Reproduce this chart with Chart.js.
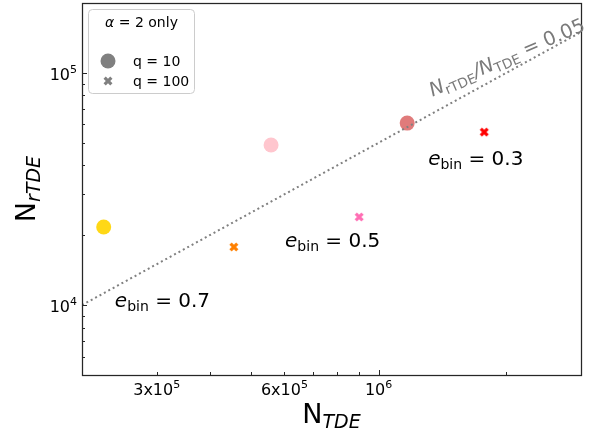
<!DOCTYPE html>
<html>
<head>
<meta charset="utf-8">
<script src="https://cdn.jsdelivr.net/npm/chart.js@4/dist/chart.umd.min.js"></script>
<style>
html,body{margin:0;padding:0;background:#fff;}
#c{display:block;}
</style>
</head>
<body>
<canvas id="c" width="590" height="434"></canvas>
<script>
// ---- data ----
const eccentricities = ['0.7', '0.5', '0.3'];
const nTDE_q10   = [2.25e5, 5.58e5, 1.168e6];
const nrTDE_q10  = [21700, 48900, 60800];
const nTDE_q100  = [4.56e5, 9.0e5, 1.774e6];
const nrTDE_q100 = [17800, 23970, 55600];
const refLineX = [2e5, 3e6];
const refLineY = [1e4, 1.5e5];
const xRange = [2e5, 3e6];
const yRange = [5e3, 2e5];
const xTickValues = [3e5, 6e5, 1e6];
const xTickLabels = ['3x10^5', '6x10^5', '10^6'];
const yTickValues = [1e4, 1e5];
const yTickLabels = ['10^4', '10^5'];
const xMajor = [1e6];
const xMinor = [3e5, 4e5, 5e5, 6e5, 7e5, 8e5, 9e5, 2e6];
const yMajor = [1e4, 1e5];
const yMinor = [6e3, 7e3, 8e3, 9e3, 2e4, 3e4, 4e4, 5e4, 6e4, 7e4, 8e4, 9e4];
// annotation anchors (data coords)
const eLabelX = [2.39e5, 6.02e5, 1.309e6];
const eLabelY = [9.8e3, 1.78e4, 4.0e4];
const refLabelPos = [1.34e6, 7.9e4];

// ---- styles ----
const q10Colors  = ['#FFD816', '#FFC6CE', '#E07B7B'];
const q100Colors = ['#FF8000', '#FF6EB4', '#FF0000'];
const FONT = '"DejaVu Sans", sans-serif';

function makeX(color, s) {
  const n = Math.ceil(s) + 2;
  const c = document.createElement('canvas');
  c.width = n; c.height = n;
  const g = c.getContext('2d');
  g.translate(n / 2, n / 2);
  g.rotate(Math.PI / 4);
  const k = s / 6;
  const pts = [[-1,-3],[1,-3],[1,-1],[3,-1],[3,1],[1,1],[1,3],[-1,3],[-1,1],[-3,1],[-3,-1],[-1,-1]];
  g.beginPath();
  pts.forEach((p, i) => { if (i) g.lineTo(p[0]*k, p[1]*k); else g.moveTo(p[0]*k, p[1]*k); });
  g.closePath();
  g.fillStyle = color;
  g.fill();
  return c;
}

function drawRich(ctx, parts, x, y, align) {
  let w = 0;
  const ws = parts.map(p => {
    ctx.font = `${p.style || 'normal'} ${p.size}px ${FONT}`;
    const m = ctx.measureText(p.t).width;
    w += m; return m;
  });
  let cx = align === 'center' ? x - w / 2 : align === 'right' ? x - w : x;
  ctx.textAlign = 'left';
  ctx.textBaseline = 'alphabetic';
  parts.forEach((p, i) => {
    ctx.font = `${p.style || 'normal'} ${p.size}px ${FONT}`;
    ctx.fillText(p.t, cx, y + (p.dy || 0));
    cx += ws[i];
  });
  return w;
}

function supParts(label, size) {
  const [base, exp] = label.split('^');
  return [{t: base, size: size}, {t: exp, size: Math.round(size * 0.7), dy: -7}];
}

const overlay = {
  id: 'overlay',
  afterDraw(chart) {
    const ctx = chart.ctx;
    const xs = chart.scales.x, ys = chart.scales.y;
    const a = chart.chartArea;
    ctx.save();
    // frame
    ctx.strokeStyle = '#262626';
    ctx.lineWidth = 1.25;
    ctx.strokeRect(Math.round(a.left) + 0.5, Math.round(a.top) + 0.5,
                   Math.round(a.right - a.left), Math.round(a.bottom - a.top));
    // ticks (inward)
    ctx.lineWidth = 1;
    ctx.beginPath();
    const tx = (v, len) => { const p = Math.round(xs.getPixelForValue(v)) + 0.5; ctx.moveTo(p, a.bottom); ctx.lineTo(p, a.bottom - len); };
    const ty = (v, len) => { const p = Math.round(ys.getPixelForValue(v)) + 0.5; ctx.moveTo(a.left, p); ctx.lineTo(a.left + len, p); };
    xMajor.forEach(v => tx(v, 5)); xMinor.forEach(v => tx(v, 3));
    yMajor.forEach(v => ty(v, 5)); yMinor.forEach(v => ty(v, 3));
    ctx.stroke();
    // tick labels
    ctx.fillStyle = '#000';
    xTickValues.forEach((v, i) => {
      drawRich(ctx, supParts(xTickLabels[i], 16), xs.getPixelForValue(v), a.bottom + 20, 'center');
    });
    yTickValues.forEach((v, i) => {
      drawRich(ctx, supParts(yTickLabels[i], 16), a.left - 5, ys.getPixelForValue(v) + 7, 'right');
    });
    // axis titles
    drawRich(ctx, [{t: 'N', size: 27}, {t: 'TDE', size: 19, style: 'italic', dy: 5}],
             (a.left + a.right) / 2, 423, 'center');
    ctx.save();
    ctx.translate(35, (a.top + a.bottom) / 2);
    ctx.rotate(-Math.PI / 2);
    drawRich(ctx, [{t: 'N', size: 27}, {t: 'rTDE', size: 19, style: 'italic', dy: 5}], 0, 0, 'center');
    ctx.restore();
    // e_bin labels
    eccentricities.forEach((e, i) => {
      drawRich(ctx, [{t: 'e', size: 20, style: 'italic'}, {t: 'bin', size: 14, dy: 4}, {t: ' = ' + e, size: 20}],
               xs.getPixelForValue(eLabelX[i]), ys.getPixelForValue(eLabelY[i]), 'left');
    });
    // reference line label
    ctx.save();
    ctx.fillStyle = '#7a7a7a';
    ctx.translate(xs.getPixelForValue(refLabelPos[0]), ys.getPixelForValue(refLabelPos[1]));
    ctx.rotate(-23.5 * Math.PI / 180);
    drawRich(ctx, [
      {t: 'N', size: 19.5, style: 'italic'}, {t: 'rTDE', size: 13.5, dy: 4},
      {t: '/', size: 19.5, style: 'italic'},
      {t: 'N', size: 19.5, style: 'italic'}, {t: 'TDE', size: 13.5, dy: 4},
      {t: ' = 0.05', size: 19.5}
    ], 0, 0, 'left');
    ctx.restore();
    // legend
    const L = {x: 88.5, y: 9.5, w: 106, h: 84, r: 4};
    ctx.beginPath();
    ctx.moveTo(L.x + L.r, L.y);
    ctx.arcTo(L.x + L.w, L.y, L.x + L.w, L.y + L.h, L.r);
    ctx.arcTo(L.x + L.w, L.y + L.h, L.x, L.y + L.h, L.r);
    ctx.arcTo(L.x, L.y + L.h, L.x, L.y, L.r);
    ctx.arcTo(L.x, L.y, L.x + L.w, L.y, L.r);
    ctx.closePath();
    ctx.fillStyle = 'rgba(255,255,255,0.8)';
    ctx.fill();
    ctx.strokeStyle = '#cccccc';
    ctx.lineWidth = 1;
    ctx.stroke();
    ctx.fillStyle = '#000';
    drawRich(ctx, [{t: 'α', size: 14, style: 'italic'}, {t: ' = 2 only', size: 14}], L.x + L.w / 2, 27, 'center');
    ctx.fillStyle = '#808080';
    ctx.beginPath(); ctx.arc(108, 61, 7.5, 0, Math.PI * 2); ctx.fill();
    const xm = makeX('#808080', 9.5);
    ctx.drawImage(xm, 108 - xm.width / 2, 81 - xm.height / 2);
    ctx.fillStyle = '#000';
    drawRich(ctx, [{t: 'q = 10', size: 14}], 133, 66, 'left');
    drawRich(ctx, [{t: 'q = 100', size: 14}], 133, 86, 'left');
    ctx.restore();
  }
};

const chart = new Chart(document.getElementById('c'), {
  type: 'scatter',
  data: {
    datasets: [
      {
        type: 'line',
        data: refLineX.map((x, i) => ({x: x, y: refLineY[i]})),
        borderColor: '#808080',
        borderWidth: 2,
        borderDash: [2, 3],
        pointRadius: 0,
        fill: false,
        order: 0
      },
      {
        data: nTDE_q10.map((x, i) => ({x: x, y: nrTDE_q10[i]})),
        backgroundColor: q10Colors,
        borderWidth: 0,
        pointRadius: 7.5,
        pointStyle: 'circle',
        order: 1
      },
      {
        data: nTDE_q100.map((x, i) => ({x: x, y: nrTDE_q100[i]})),
        pointStyle: q100Colors.map(c => makeX(c, 9.5)),
        pointRadius: 5,
        order: 2
      }
    ]
  },
  options: {
    responsive: false,
    animation: false,
    layout: {autoPadding: false, padding: {left: 0, top: 3, right: 9, bottom: 0}},
    plugins: {legend: {display: false}, tooltip: {enabled: false}},
    scales: {
      x: {
        type: 'logarithmic', min: xRange[0], max: xRange[1],
        grid: {display: false}, border: {display: false},
        ticks: {display: false},
        afterFit: s => { s.height = 59; }
      },
      y: {
        type: 'logarithmic', min: yRange[0], max: yRange[1],
        grid: {display: false}, border: {display: false},
        ticks: {display: false},
        afterFit: s => { s.width = 82; }
      }
    }
  },
  plugins: [overlay]
});
</script>
</body>
</html>
